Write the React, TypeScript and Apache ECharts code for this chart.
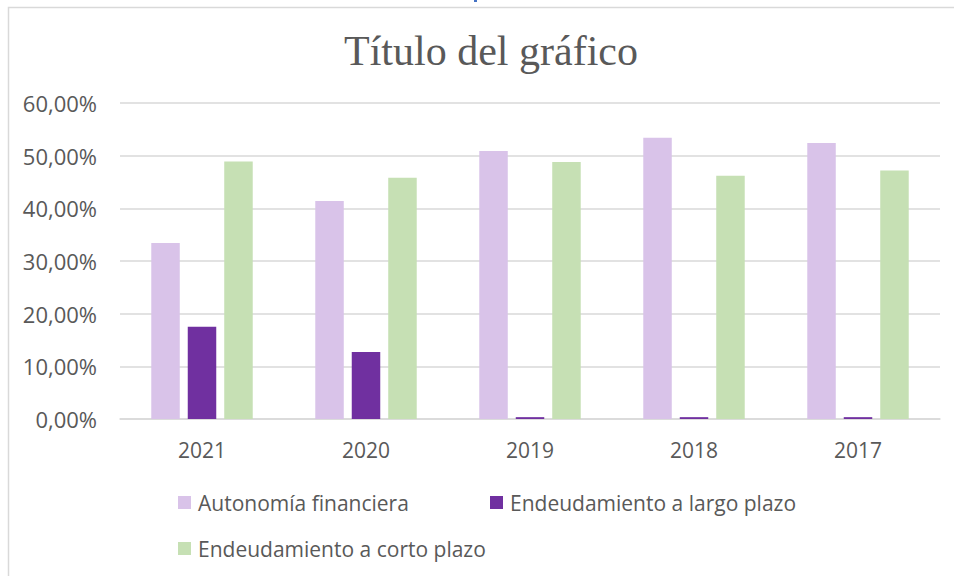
import React, { useEffect, useRef } from "react";
import * as echarts from "echarts";

const titleText = "Título del gráfico";
const categories = ["2021", "2020", "2019", "2018", "2017"];
const seriesNames = [
  "Autonomía financiera",
  "Endeudamiento a largo plazo",
  "Endeudamiento a corto plazo",
];
const autonomia = [33.4, 41.4, 50.9, 53.4, 52.4];
const largoPlazo = [17.5, 12.7, 0.35, 0.35, 0.35];
const cortoPlazo = [48.9, 45.8, 48.8, 46.2, 47.2];
const colors = ["#D9C3E9", "#7030A0", "#C6E0B4"];

const FONT = "'Open Sans', sans-serif";
const TEXT = "#595959";

export default function App() {
  const ref = useRef<HTMLDivElement>(null);
  useEffect(() => {
    if (!ref.current) return;
    const chart = echarts.init(ref.current, undefined, { renderer: "svg" });
    const values = [autonomia, largoPlazo, cortoPlazo];
    const legendPos = [
      { left: 178, top: 492 },
      { left: 490, top: 492 },
      { left: 178, top: 538 },
    ];
    chart.setOption({
      animation: false,
      backgroundColor: "#ffffff",
      title: {
        text: titleText,
        left: 486,
        textAlign: "center",
        top: 25,
        textStyle: {
          fontFamily: "'Liberation Serif', 'Times New Roman', serif",
          fontSize: 42,
          fontWeight: "normal",
          color: TEXT,
        },
      },
      grid: { left: 120, right: 14, top: 103, bottom: 157, containLabel: false },
      xAxis: {
        type: "category",
        data: categories,
        axisLine: { lineStyle: { color: "#d9d9d9", width: 1.5 } },
        axisTick: { show: false },
        axisLabel: { color: TEXT, fontFamily: FONT, fontSize: 21, margin: 20 },
      },
      yAxis: {
        type: "value",
        min: 0,
        max: 60,
        interval: 10,
        axisLine: { show: false },
        axisTick: { show: false },
        splitLine: { lineStyle: { color: "#d9d9d9", width: 1.5 } },
        axisLabel: {
          color: TEXT,
          fontFamily: FONT,
          fontSize: 22,
          margin: 23,
          formatter: (v: number) => v.toFixed(2).replace(".", ",") + "%",
        },
      },
      legend: seriesNames.map((n, i) => ({
        data: [n],
        left: legendPos[i].left,
        top: legendPos[i].top,
        padding: 0,
        icon: "rect",
        itemWidth: 13,
        itemHeight: 13,
        textStyle: { color: TEXT, fontFamily: FONT, fontSize: 21, padding: [0, 0, 0, 2] },
      })),
      series: seriesNames.map((n, i) => ({
        name: n,
        type: "bar",
        data: values[i],
        barWidth: 28.5,
        barGap: "28%",
        itemStyle: { color: colors[i] },
      })),
      graphic: [
        {
          type: "rect",
          shape: { x: 8.5, y: 7.5, width: 1000, height: 700 },
          style: { fill: "none", stroke: "#d9d9d9", lineWidth: 1.5 },
          silent: true,
        },
        {
          type: "rect",
          shape: { x: 474, y: 0, width: 3, height: 2 },
          style: { fill: "#4472C4" },
          silent: true,
        },
      ],
    });
    return () => chart.dispose();
  }, []);
  return (
    <div
      ref={ref}
      style={{ position: "absolute", left: 0, top: 0, width: 954, height: 576 }}
    />
  );
}
